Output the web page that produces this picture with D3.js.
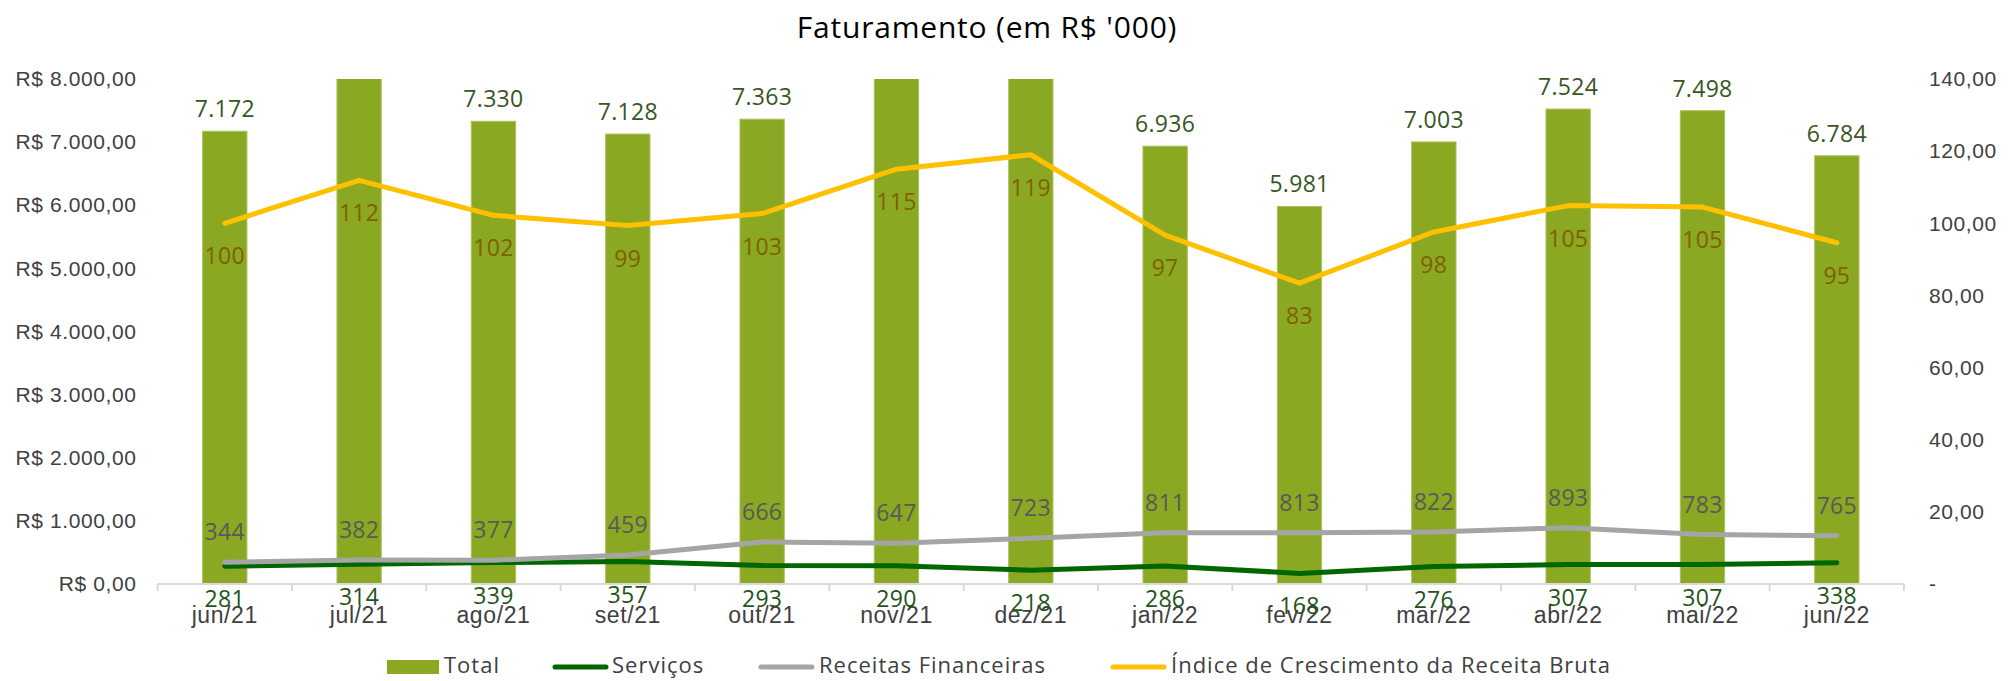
<!DOCTYPE html>
<html>
<head>
<meta charset="utf-8">
<script src="https://cdn.jsdelivr.net/npm/d3@7"></script>
<style>
  html, body { margin: 0; padding: 0; background: #fff; }
  svg { display: block; font-family: "Open Sans", "Noto Sans", sans-serif; }
</style>
</head>
<body>
<svg id="chart" width="2008" height="681"></svg>
<script>
// ---- data ----
const categories = ["jun/21","jul/21","ago/21","set/21","out/21","nov/21","dez/21","jan/22","fev/22","mar/22","abr/22","mai/22","jun/22"];
const total = [7172, 8030, 7330, 7128, 7363, 8250, 8535, 6936, 5981, 7003, 7524, 7498, 6784];
const servicos = [281, 314, 339, 357, 293, 290, 218, 286, 168, 276, 307, 307, 338];
const receitasFin = [344, 382, 377, 459, 666, 647, 723, 811, 813, 822, 893, 783, 765];
const indice = [100, 111.9, 102.2, 99.4, 102.7, 115.0, 119.0, 96.7, 83.4, 97.6, 104.9, 104.5, 94.6];
const leftTicks = [0, 1000, 2000, 3000, 4000, 5000, 6000, 7000, 8000];
const rightTicks = [0, 20, 40, 60, 80, 100, 120, 140];
const seriesNames = ["Total", "Serviços", "Receitas Financeiras", "Índice de Crescimento da Receita Bruta"];
const titleText = "Faturamento (em R$ '000)";

// ---- setup ----
const svg = d3.select("#chart");
const L = 157.6, R = 1904, T = 79, B = 584;
const loc = d3.formatLocale({decimal: ",", thousands: ".", grouping: [3], currency: ["R$ ", ""]});
const fMoney = loc.format(",.2f");
const fInt = loc.format(",.0f");
const f2 = loc.format(",.2f");

const x = d3.scaleBand().domain(categories).range([L, R]).paddingInner(0.67).paddingOuter(0.335);
const yL = d3.scaleLinear().domain([0, 8000]).range([B, T]);
const yR = d3.scaleLinear().domain([0, 140]).range([B, T]);
const cx = c => x(c) + x.bandwidth() / 2;

const colBar = "#8ba822", colServ = "#006600", colRec = "#a5a5a5", colIdx = "#ffc000";
const axisText = "#404040";
const LS = "0.6px";

svg.append("defs").append("clipPath").attr("id", "plotclip")
  .append("rect").attr("x", L).attr("y", T).attr("width", R - L).attr("height", B - T);

// title
svg.append("text").attr("x", 987).attr("y", 27).attr("dy", "0.35em")
  .attr("text-anchor", "middle").attr("font-size", 30).attr("letter-spacing", "0.8px")
  .attr("fill", "#000").text(titleText);

// left axis
const gl = svg.append("g").attr("transform", `translate(${L},0)`)
  .call(d3.axisLeft(yL).tickValues(leftTicks).tickSize(0).tickPadding(21).tickFormat(d => "R$ " + fMoney(d)));
gl.select(".domain").remove();
gl.selectAll("text").attr("font-size", 21).attr("letter-spacing", LS).attr("fill", axisText).attr("font-family", null);

// right axis
const gr = svg.append("g").attr("transform", `translate(${R},0)`)
  .call(d3.axisRight(yR).tickValues(rightTicks).tickSize(0).tickPadding(25).tickFormat(d => d === 0 ? "-" : f2(d)));
gr.select(".domain").remove();
gr.selectAll("text").attr("font-size", 21).attr("letter-spacing", LS).attr("fill", axisText).attr("font-family", null);

// bars
svg.append("g").attr("clip-path", "url(#plotclip)")
  .selectAll("rect").data(total).join("rect")
  .attr("x", (d, i) => x(categories[i]))
  .attr("width", x.bandwidth())
  .attr("y", d => yL(d))
  .attr("height", d => B - yL(d))
  .attr("fill", colBar)
  .attr("stroke", "#a9c25e").attr("stroke-width", 1);

// bottom axis
const gb = svg.append("g").attr("transform", `translate(0,${B})`)
  .call(d3.axisBottom(x).tickSize(0).tickPadding(23));
gb.select(".domain").remove();
gb.selectAll("text").attr("font-size", 23).attr("letter-spacing", LS).attr("fill", axisText).attr("font-family", null);
svg.append("line").attr("x1", L).attr("x2", R).attr("y1", B).attr("y2", B)
  .attr("stroke", "#d9d9d9").attr("stroke-width", 2);
const step = x.step();
const boundaries = categories.map(c => x(c) - step * 0.335).concat([R]);
svg.append("g").selectAll("line").data(boundaries).join("line")
  .attr("x1", d => d).attr("x2", d => d).attr("y1", B).attr("y2", B + 7)
  .attr("stroke", "#d9d9d9").attr("stroke-width", 2);

// lines
function drawLine(vals, scale, color) {
  const line = d3.line().x((d, i) => cx(categories[i])).y(d => scale(d));
  svg.append("path").datum(vals).attr("d", line).attr("fill", "none")
    .attr("stroke", color).attr("stroke-width", 5)
    .attr("stroke-linecap", "round").attr("stroke-linejoin", "round");
}
drawLine(servicos, yL, colServ);
drawLine(receitasFin, yL, colRec);
drawLine(indice, yR, colIdx);

// labels
function labels(vals, yf, color, fmt, show) {
  const items = vals.map((v, i) => ({v, c: categories[i]})).filter(d => !show || show(d.v));
  svg.append("g").selectAll("text").data(items).join("text")
    .attr("x", d => cx(d.c))
    .attr("y", d => yf(d.v)).attr("dy", "0.35em")
    .attr("text-anchor", "middle").attr("font-size", 23).attr("letter-spacing", "0.3px")
    .attr("fill", color)
    .text(d => fmt(d.v));
}
labels(total, d => yL(d) - 22, "#375623", d => fInt(d), d => d <= 8000);
labels(receitasFin, d => yL(d) - 30, "#595959", d => fInt(d));
labels(indice, d => yR(d) + 33, "#7f6000", d => fInt(Math.round(d)));
labels(servicos, d => yL(d) + 33, "#24541a", d => fInt(d));

// legend
const lg = svg.append("g");
const ly = 667;
lg.append("rect").attr("x", 387).attr("y", ly - 7).attr("width", 52).attr("height", 14).attr("fill", colBar);
const legendItems = [
  {name: seriesNames[0], tx: 444},
  {name: seriesNames[1], x1: 555, x2: 606, tx: 612, color: colServ},
  {name: seriesNames[2], x1: 761, x2: 812, tx: 819, color: colRec},
  {name: seriesNames[3], x1: 1113, x2: 1164, tx: 1171, color: colIdx}
];
legendItems.forEach(it => {
  if (it.color) {
    lg.append("line").attr("x1", it.x1).attr("x2", it.x2).attr("y1", ly).attr("y2", ly)
      .attr("stroke", it.color).attr("stroke-width", 5).attr("stroke-linecap", "round");
  }
  lg.append("text").attr("x", it.tx).attr("y", ly - 2).attr("dy", "0.35em")
    .attr("font-size", 22).attr("letter-spacing", "1px").attr("fill", axisText).text(it.name);
});
</script>
</body>
</html>
